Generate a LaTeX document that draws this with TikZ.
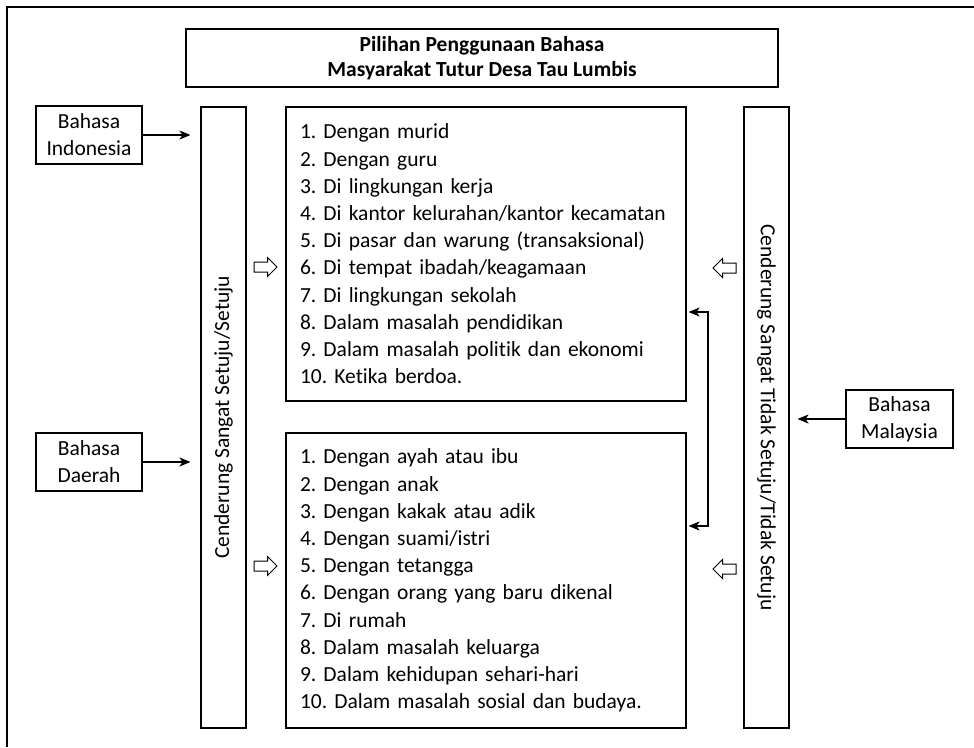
\documentclass[tikz,border=0pt]{standalone}
\usepackage{fontspec}
\setmainfont{Carlito}[Ligatures=NoCommon]
\usepackage{tikz}
\usetikzlibrary{arrows.meta}
\usetikzlibrary{shapes.arrows}

\frenchspacing

\tikzset{
  kotak/.style={draw,rectangle,line width=1.1pt,inner sep=0pt},
  bahasa/.style={kotak,minimum width=106,minimum height=58,align=center},
  daftar/.style={kotak,minimum width=400,text width=372,inner xsep=14pt,align=left,
                 font=\fontsize{21.5}{27.2}\selectfont},
  tiang/.style={kotak,minimum width=45,minimum height=621},
  panah kosong/.style={single arrow,draw,line width=1pt,inner sep=4.5pt,
                       minimum height=23,single arrow head extend=4.5pt}
}

\begin{document}
\begin{tikzpicture}[x=1pt,y=-1pt,>={Stealth[length=11pt,width=9pt,inset=3pt]},
                    line width=1.1pt,font=\fontsize{21.5}{27}\selectfont]

  \useasboundingbox (0,0) rectangle (974,747);

  % bingkai luar
  \draw (974,7) -- (7,7) -- (7,747);

  \node[kotak,minimum width=592,minimum height=58,align=center,
        font=\fontsize{21.5}{25}\selectfont\bfseries] (judul) at (482,58)
        {Pilihan Penggunaan Bahasa\\Masyarakat Tutur Desa Tau Lumbis};

  \node[bahasa] (indonesia) at (89,135) {Bahasa\\Indonesia};
  \node[bahasa] (daerah) at (89,462) {Bahasa\\Daerah};
  \node[bahasa,minimum width=107] (malaysia) at (899.5,419) {Bahasa\\Malaysia};

  \node[tiang] (setuju) at (223.5,417.5) {};
  \node[tiang] (tidak) at (766.5,417.5) {};
  \node[rotate=90] (setujuteks) at (setuju) {Cenderung Sangat Setuju/Setuju};
  \node[rotate=-90] (tidakteks) at (tidak) {Cenderung Sangat Tidak Setuju/Tidak Setuju};

  \node[daftar,minimum height=294] (formal) at (486,254) {%
    1. Dengan murid\\
    2. Dengan guru\\
    3. Di lingkungan kerja\\
    4. Di kantor kelurahan/kantor kecamatan\\
    5. Di pasar dan warung (transaksional)\\
    6. Di tempat ibadah/keagamaan\\
    7. Di lingkungan sekolah\\
    8. Dalam masalah pendidikan\\
    9. Dalam masalah politik dan ekonomi\\
    10. Ketika berdoa.};

  \node[daftar,minimum height=295] (informal) at (486,580.5) {%
    1. Dengan ayah atau ibu\\
    2. Dengan anak\\
    3. Dengan kakak atau adik\\
    4. Dengan suami/istri\\
    5. Dengan tetangga\\
    6. Dengan orang yang baru dikenal\\
    7. Di rumah\\
    8. Dalam masalah keluarga\\
    9. Dalam kehidupan sehari-hari\\
    10. Dalam masalah sosial dan budaya.};

  % panah berongga antara kolom dan daftar
  \node[panah kosong] (ka1) at (263,267) {};
  \node[panah kosong] (ka2) at (263,566) {};
  \node[panah kosong,shape border rotate=180] (ki1) at (727,268) {};
  \node[panah kosong,shape border rotate=180] (ki2) at (727,569) {};

  \path[->,shorten >=10pt]
    (indonesia) edge (setuju.west |- indonesia.east)
    (daerah) edge (setuju.west |- daerah.east);
  \draw[->,shorten >=8pt] (malaysia) -- (tidak.east |- malaysia.west);

  \coordinate (siku) at (708,0);
  \draw[<->,shorten <=2pt,shorten >=2pt]
    (formal.east |- 0,312) -- (siku |- 0,312) -- (siku |- 0,526) -- (informal.east |- 0,526);

\end{tikzpicture}
\end{document}
